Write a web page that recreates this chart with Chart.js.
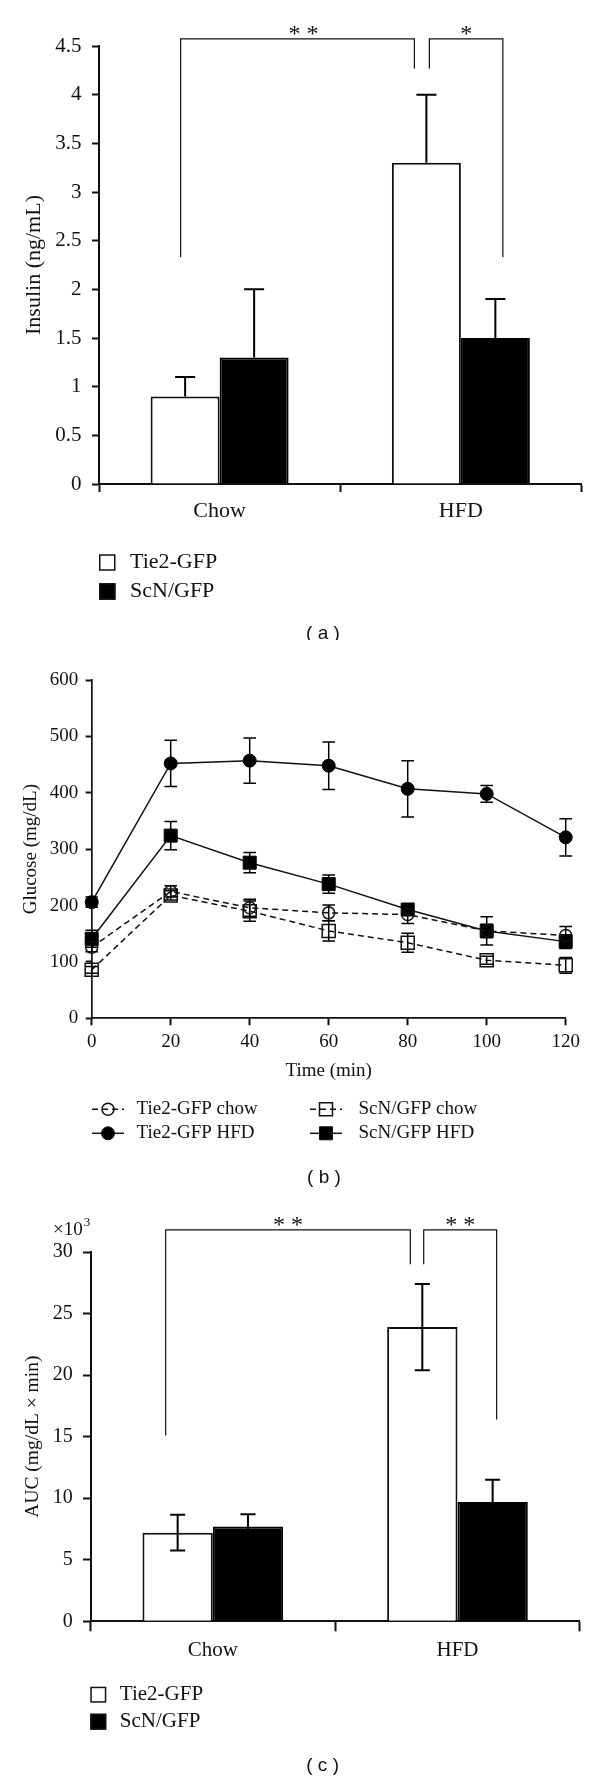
<!DOCTYPE html>
<html>
<head>
<meta charset="utf-8">
<script src="https://cdn.jsdelivr.net/npm/chart.js@4.4.1/dist/chart.umd.min.js"></script>
<style>
body { margin: 0; background: #fff; }
canvas { position: absolute; left: 0; }
</style>
</head>
<body>
<canvas id="insulinChart" width="600" height="640" style="top:0px"></canvas>
<canvas id="glucoseChart" width="600" height="560" style="top:640px"></canvas>
<canvas id="aucChart" width="600" height="580" style="top:1200px"></canvas>
<script>
// (a) insulin
var groups = ['Chow', 'HFD'];
var insulinTie2 = [0.9, 3.3];
var insulinTie2Err = [0.2, 0.7];
var insulinScN = [1.3, 1.5];
var insulinScNErr = [0.7, 0.4];

// (b) glucose tolerance, time in min
var times = [0, 20, 40, 60, 80, 100, 120];
var tie2Chow = [126, 225, 196, 187, 184, 155, 147];
var tie2ChowErr = [8, 10, 15, 14, 16, 12, 16];
var scnChow = [86, 218, 190, 155, 134, 103, 94];
var scnChowErr = [6, 8, 18, 18, 17, 7, 14];
var tie2Hfd = [206, 452, 457, 448, 407, 398, 321];
var tie2HfdErr = [9, 41, 40, 42, 50, 15, 33];
var scnHfd = [141, 324, 276, 238, 193, 155, 136];
var scnHfdErr = [15, 25, 18, 16, 6, 25, 12];

// (c) AUC, x10^3
var aucTie2 = [7.2, 23.9];
var aucTie2Err = [1.45, 3.5];
var aucScN = [7.7, 9.7];
var aucScNErr = [1.0, 1.8];

var serif = '"Liberation Serif", "DejaVu Serif", serif';
Chart.defaults.font.family = serif;
Chart.defaults.color = '#111';

function pts(values) {
    var out = [];
    for (var i = 0; i < times.length; i++) {
        out.push({ x: times[i], y: values[i] });
    }
    return out;
}

// plain numbers on the value axis: 1 not 1.0
function plainTick(value) {
    return String(Number(value));
}

// error bars, taken from dataset.errors
function drawErrors(chart, opts) {
    var ctx = chart.ctx;
    var yScale = chart.scales.y;
    ctx.save();
    ctx.strokeStyle = '#000';
    ctx.lineWidth = opts.width;
    chart.data.datasets.forEach(function (ds, i) {
        if (!ds.errors) return;
        chart.getDatasetMeta(i).data.forEach(function (el, j) {
            var raw = ds.data[j];
            var v = (typeof raw === 'object') ? raw.y : raw;
            var top = yScale.getPixelForValue(v + ds.errors[j]);
            var bottom = opts.upOnly ? yScale.getPixelForValue(v) : yScale.getPixelForValue(v - ds.errors[j]);
            ctx.beginPath();
            ctx.moveTo(el.x, top);
            ctx.lineTo(el.x, bottom);
            ctx.moveTo(el.x - opts.cap, top);
            ctx.lineTo(el.x + opts.cap, top);
            if (!opts.upOnly) {
                ctx.moveTo(el.x - opts.cap, bottom);
                ctx.lineTo(el.x + opts.cap, bottom);
            }
            ctx.stroke();
        });
    });
    ctx.restore();
}

var errorBarPlugin = {
    id: 'errorBars',
    beforeDatasetsDraw: function (chart, args, opts) { if (opts.under) drawErrors(chart, opts); },
    afterDatasetsDraw: function (chart, args, opts) { if (!opts.under) drawErrors(chart, opts); }
};

// significance brackets between bars
var bracketPlugin = {
    id: 'brackets',
    afterDraw: function (chart, args, opts) {
        var ctx = chart.ctx;
        var y = chart.scales.y;
        ctx.save();
        ctx.strokeStyle = '#111';
        ctx.fillStyle = '#111';
        ctx.lineWidth = 1.2;
        ctx.font = opts.font;
        ctx.textAlign = 'center';
        ctx.textBaseline = 'alphabetic';
        opts.items.forEach(function (b) {
            var x1 = chart.getDatasetMeta(b.from[0]).data[b.from[1]].x + b.shift[0];
            var x2 = chart.getDatasetMeta(b.to[0]).data[b.to[1]].x + b.shift[1];
            var yt = y.getPixelForValue(b.top);
            ctx.beginPath();
            ctx.moveTo(x1, y.getPixelForValue(b.legs[0]));
            ctx.lineTo(x1, yt);
            ctx.lineTo(x2, yt);
            ctx.lineTo(x2, y.getPixelForValue(b.legs[1]));
            ctx.stroke();
            ctx.fillText(b.text, (x1 + x2) / 2 + (b.dx || 0), yt + opts.textShift);
        });
        ctx.restore();
    }
};

// square legend under bar charts
var boxLegendPlugin = {
    id: 'boxLegend',
    afterDraw: function (chart, args, opts) {
        var ctx = chart.ctx;
        ctx.save();
        ctx.font = opts.font;
        ctx.textBaseline = 'middle';
        ctx.textAlign = 'left';
        chart.data.datasets.forEach(function (ds, i) {
            var cy = opts.y + i * opts.gap;
            ctx.fillStyle = ds.backgroundColor;
            ctx.fillRect(opts.x, cy - opts.box / 2, opts.box, opts.box);
            ctx.strokeStyle = '#111';
            ctx.lineWidth = 1.5;
            ctx.strokeRect(opts.x + 0.75, cy - opts.box / 2 + 0.75, opts.box - 1.5, opts.box - 1.5);
            ctx.fillStyle = '#111';
            ctx.fillText(ds.label, opts.textX, cy);
        });
        ctx.restore();
    }
};

// line + marker legend for (b), two columns
var lineLegendPlugin = {
    id: 'lineLegend',
    afterDraw: function (chart, args, opts) {
        var ctx = chart.ctx;
        ctx.save();
        ctx.font = opts.font;
        ctx.textBaseline = 'middle';
        ctx.textAlign = 'left';
        chart.data.datasets.forEach(function (ds, i) {
            var col = i % 2, row = Math.floor(i / 2);
            var sx = opts.symbolX[col];
            var cy = opts.y + row * opts.gap;
            ctx.strokeStyle = '#111';
            ctx.lineWidth = ds.borderWidth;
            ctx.setLineDash(ds.borderDash || []);
            ctx.beginPath();
            ctx.moveTo(sx - 16, cy);
            ctx.lineTo(sx + 16, cy);
            ctx.stroke();
            ctx.setLineDash([]);
            ctx.lineWidth = ds.pointBorderWidth;
            ctx.fillStyle = ds.pointBackgroundColor;
            ctx.beginPath();
            if (ds.pointStyle === 'rect') {
                var h = ds.pointRadius * Math.SQRT1_2;
                ctx.rect(sx - h, cy - h, 2 * h, 2 * h);
            } else {
                ctx.arc(sx, cy, ds.pointRadius, 0, Math.PI * 2);
            }
            ctx.fill();
            ctx.stroke();
            ctx.fillStyle = '#111';
            ctx.fillText(ds.label, opts.textX[col], cy);
        });
        ctx.restore();
    }
};

// panel letter and extra notes
var captionPlugin = {
    id: 'caption',
    afterDraw: function (chart, args, opts) {
        var ctx = chart.ctx;
        ctx.save();
        ctx.fillStyle = '#111';
        ctx.font = '19px "Liberation Sans", Arial, sans-serif';
        ctx.textAlign = 'center';
        ctx.textBaseline = 'middle';
        ctx.fillText(opts.text, opts.x, opts.y);
        if (opts.note) {
            ctx.textAlign = 'left';
            ctx.font = '19px ' + serif;
            ctx.fillText('\u00d710', opts.note.x, opts.note.y);
            var w = ctx.measureText('\u00d710').width;
            ctx.font = '13px ' + serif;
            ctx.fillText('3', opts.note.x + w + 1, opts.note.y - 7);
        }
        ctx.restore();
    }
};

function tickGrid(len) {
    return { drawOnChartArea: false, drawTicks: true, tickLength: len, tickWidth: 2, color: '#111' };
}

// (a) insulin chart
var insulinChart = new Chart(document.getElementById('insulinChart'), {
    type: 'bar',
    data: {
        labels: groups,
        datasets: [{
            label: 'Tie2-GFP',
            data: insulinTie2,
            errors: insulinTie2Err,
            backgroundColor: '#fff',
            borderColor: '#111',
            borderWidth: 2,
            categoryPercentage: 0.572,
            barPercentage: 1
        },
            {
                label: 'ScN/GFP',
                data: insulinScN,
                errors: insulinScNErr,
                backgroundColor: '#000',
                borderColor: '#000',
                borderWidth: 2,
                categoryPercentage: 0.572,
                barPercentage: 1
            }
        ]
    },
    options: {
        responsive: false,
        animation: false,
        devicePixelRatio: 1,
        layout: { padding: { left: 0, top: 46, right: 18.5, bottom: 96 } },
        scales: {
            x: {
                afterFit: function (s) { s.height = 60; },
                grid: Object.assign(tickGrid(8), { offset: true }),
                border: { color: '#111', width: 2 },
                ticks: { font: { size: 22 }, padding: 6.5, color: '#111' }
            },
            y: {
                min: 0,
                max: 4.5,
                afterFit: function (s) { s.width = 99; },
                grid: tickGrid(7),
                border: { color: '#111', width: 2 },
                ticks: { stepSize: 0.5, padding: 10.5, font: { size: 21 }, color: '#111', callback: plainTick },
                title: { display: true, text: 'Insulin (ng/mL)', font: { size: 22 }, color: '#111', padding: { top: 20.6, bottom: 0 } }
            }
        },
        plugins: {
            legend: { display: false },
            tooltip: { enabled: false },
            errorBars: { upOnly: true, under: false, cap: 10, width: 2 },
            brackets: {
                font: '24px ' + serif,
                textShift: 2,
                items: [
                    { from: [0, 0], to: [0, 1], shift: [-4.5, -12], top: 4.574, legs: [2.33, 4.27], text: '* *', dx: 6 },
                    { from: [0, 1], to: [1, 1], shift: [3, 7.5], top: 4.574, legs: [4.27, 2.33], text: '*' }
                ]
            },
            boxLegend: { x: 99, y: 562.5, gap: 29, box: 16.5, textX: 130, font: '22px ' + serif },
            caption: { text: '( a )', x: 323, y: 634 }
        }
    },
    plugins: [errorBarPlugin, bracketPlugin, boxLegendPlugin, captionPlugin]
});

// (b) glucose curves
var glucoseChart = new Chart(document.getElementById('glucoseChart'), {
    type: 'line',
    data: {
        datasets: [{
            label: 'Tie2-GFP chow',
            data: pts(tie2Chow),
            errors: tie2ChowErr,
            borderColor: '#111',
            borderWidth: 1.5,
            borderDash: [6, 4],
            pointStyle: 'circle',
            pointRadius: 6,
            pointBackgroundColor: 'rgba(255,255,255,0)',
            pointBorderColor: '#111',
            pointBorderWidth: 1.5,
            clip: false
        },
            {
                label: 'ScN/GFP chow',
                data: pts(scnChow),
                errors: scnChowErr,
                borderColor: '#111',
                borderWidth: 1.5,
                borderDash: [6, 4],
                pointStyle: 'rect',
                pointRadius: 9.2,
                pointBackgroundColor: 'rgba(255,255,255,0)',
                pointBorderColor: '#111',
                pointBorderWidth: 1.5,
                clip: false
            },
            {
                label: 'Tie2-GFP HFD',
                data: pts(tie2Hfd),
                errors: tie2HfdErr,
                borderColor: '#111',
                borderWidth: 1.5,
                pointStyle: 'circle',
                pointRadius: 6.5,
                pointBackgroundColor: '#000',
                pointBorderColor: '#000',
                pointBorderWidth: 1,
                clip: false
            },
            {
                label: 'ScN/GFP HFD',
                data: pts(scnHfd),
                errors: scnHfdErr,
                borderColor: '#111',
                borderWidth: 1.5,
                pointStyle: 'rect',
                pointRadius: 9.2,
                pointBackgroundColor: '#000',
                pointBorderColor: '#000',
                pointBorderWidth: 1,
                clip: false
            }
        ]
    },
    options: {
        responsive: false,
        animation: false,
        devicePixelRatio: 1,
        layout: { padding: { left: 0, top: 40, right: 34.3, bottom: 101.7 } },
        scales: {
            x: {
                type: 'linear',
                min: 0,
                max: 120,
                afterFit: function (s) { s.height = 80; },
                grid: tickGrid(7),
                border: { color: '#111', width: 1.7 },
                ticks: { stepSize: 20, padding: 5, font: { size: 19 }, color: '#111' },
                title: { display: true, text: 'Time (min)', font: { size: 19 }, color: '#111', padding: { top: 0, bottom: 16 } }
            },
            y: {
                min: 0,
                max: 600,
                afterFit: function (s) { s.width = 91.7; },
                grid: tickGrid(6),
                border: { color: '#111', width: 1.7 },
                ticks: { stepSize: 100, padding: 7.4, font: { size: 19 }, color: '#111' },
                title: { display: true, text: 'Glucose (mg/dL)', font: { size: 19 }, color: '#111', padding: { top: 19.2, bottom: 0 } }
            }
        },
        plugins: {
            legend: { display: false },
            tooltip: { enabled: false },
            errorBars: { upOnly: false, under: true, cap: 6.3, width: 1.5 },
            lineLegend: { symbolX: [108, 326], textX: [136.5, 358.5], y: 469.3, gap: 24, font: '19px ' + serif },
            caption: { text: '( b )', x: 324, y: 538 }
        }
    },
    plugins: [errorBarPlugin, lineLegendPlugin, captionPlugin]
});

// (c) area under curve
var aucChart = new Chart(document.getElementById('aucChart'), {
    type: 'bar',
    data: {
        labels: groups,
        datasets: [{
            label: 'Tie2-GFP',
            data: aucTie2,
            errors: aucTie2Err,
            backgroundColor: '#fff',
            borderColor: '#111',
            borderWidth: 2,
            categoryPercentage: 0.575,
            barPercentage: 1
        },
            {
                label: 'ScN/GFP',
                data: aucScN,
                errors: aucScNErr,
                backgroundColor: '#000',
                borderColor: '#000',
                borderWidth: 2,
                categoryPercentage: 0.575,
                barPercentage: 1
            }
        ]
    },
    options: {
        responsive: false,
        animation: false,
        devicePixelRatio: 1,
        layout: { padding: { left: 0, top: 52, right: 20.2, bottom: 98.7 } },
        scales: {
            x: {
                afterFit: function (s) { s.height = 60; },
                grid: Object.assign(tickGrid(10), { offset: true }),
                border: { color: '#111', width: 2 },
                ticks: { font: { size: 21 }, padding: 6.8, color: '#111' }
            },
            y: {
                min: 0,
                max: 30,
                afterFit: function (s) { s.width = 90.5; },
                grid: tickGrid(7.5),
                border: { color: '#111', width: 2 },
                ticks: { stepSize: 5, padding: 10.3, font: { size: 20 }, color: '#111', callback: plainTick },
                title: { display: true, text: 'AUC (mg/dL \u00d7 min)', font: { size: 19.5 }, color: '#111', padding: { top: 21, bottom: 0 } }
            }
        },
        plugins: {
            legend: { display: false },
            tooltip: { enabled: false },
            errorBars: { upOnly: false, under: false, cap: 7.5, width: 2 },
            brackets: {
                font: '24px ' + serif,
                textShift: 2,
                items: [
                    { from: [0, 0], to: [0, 1], shift: [-12, -12], top: 31.8, legs: [15.1, 29.0], text: '* *' },
                    { from: [0, 1], to: [1, 1], shift: [1.4, 4], top: 31.8, legs: [29.0, 16.4], text: '* *' }
                ]
            },
            boxLegend: { x: 90.3, y: 494.7, gap: 27, box: 16, textX: 119.8, font: '21px ' + serif },
            caption: { text: '( c )', x: 322.6, y: 565.5, note: { x: 53, y: 30 } }
        }
    },
    plugins: [errorBarPlugin, bracketPlugin, boxLegendPlugin, captionPlugin]
});
</script>
</body>
</html>
